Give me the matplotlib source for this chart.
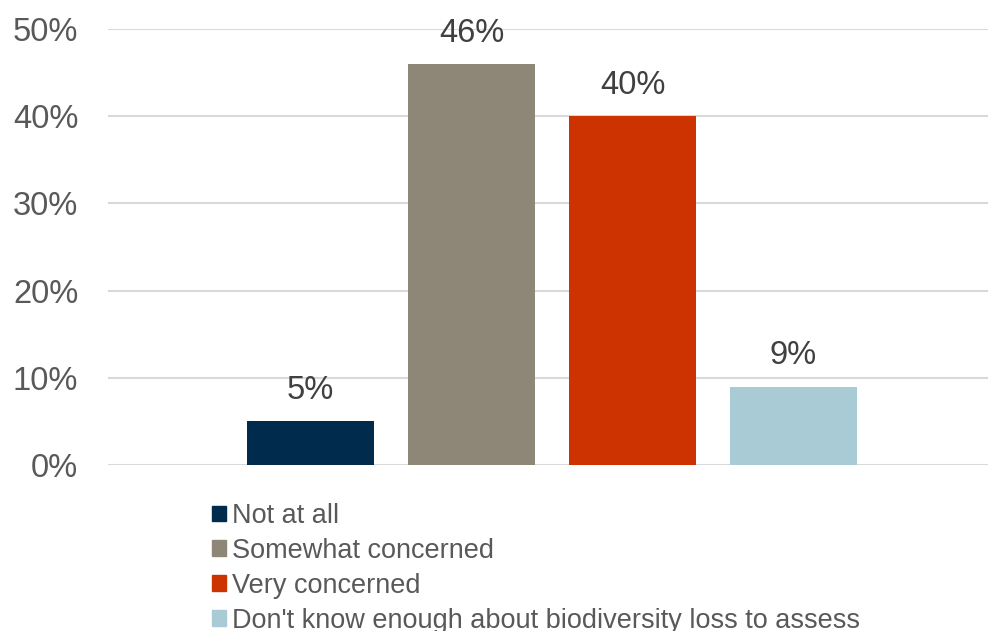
import matplotlib.pyplot as plt
from matplotlib.patches import Patch

plt.rcParams['font.family'] = ['Liberation Sans', 'DejaVu Sans']

labels = ['Not at all', 'Somewhat concerned', 'Very concerned',
          "Don't know enough about biodiversity loss to assess"]
values = [5, 46, 40, 9]
colors = ['#002b4d', '#8e8777', '#cc3300', '#a9cbd6']
yticks = [0, 10, 20, 30, 40, 50]

fig = plt.figure(figsize=(9.9, 6.31), dpi=100)
ax = fig.add_axes([108 / 990, 1 - 465 / 631, 880 / 990, 436 / 631])

pos = list(range(len(values)))
bars = ax.bar(pos, values, width=0.79, color=colors, zorder=3)
for p, v in zip(pos, values):
    ax.annotate(f'{v}%', (p, v), xytext=(0, 16), textcoords='offset points',
                ha='center', va='baseline', fontsize=23.5, color='#404040')

ax.set_xlim(-1.258, 4.208)
ax.set_ylim(0, 50)
ax.set_yticks(yticks)
ax.set_yticklabels([f'{t}%' for t in yticks], fontsize=23.5, color='#595959')
ax.set_xticks([])
ax.tick_params(axis='y', length=0, pad=21.5)
ax.grid(axis='y', color='#d9d9d9', linewidth=1.5, zorder=0)
for s in ax.spines.values():
    s.set_visible(False)

handles = [Patch(color=c) for c in colors]
fig.legend(handles, labels, loc='upper left', bbox_to_anchor=(212 / 990, 1 - 503 / 631),
           frameon=False, fontsize=19.5, labelcolor='#595959', handlelength=0.52,
           handleheight=0.52, handletextpad=0.22, labelspacing=0.33, borderaxespad=0,
           borderpad=0)

plt.savefig('out.png')
